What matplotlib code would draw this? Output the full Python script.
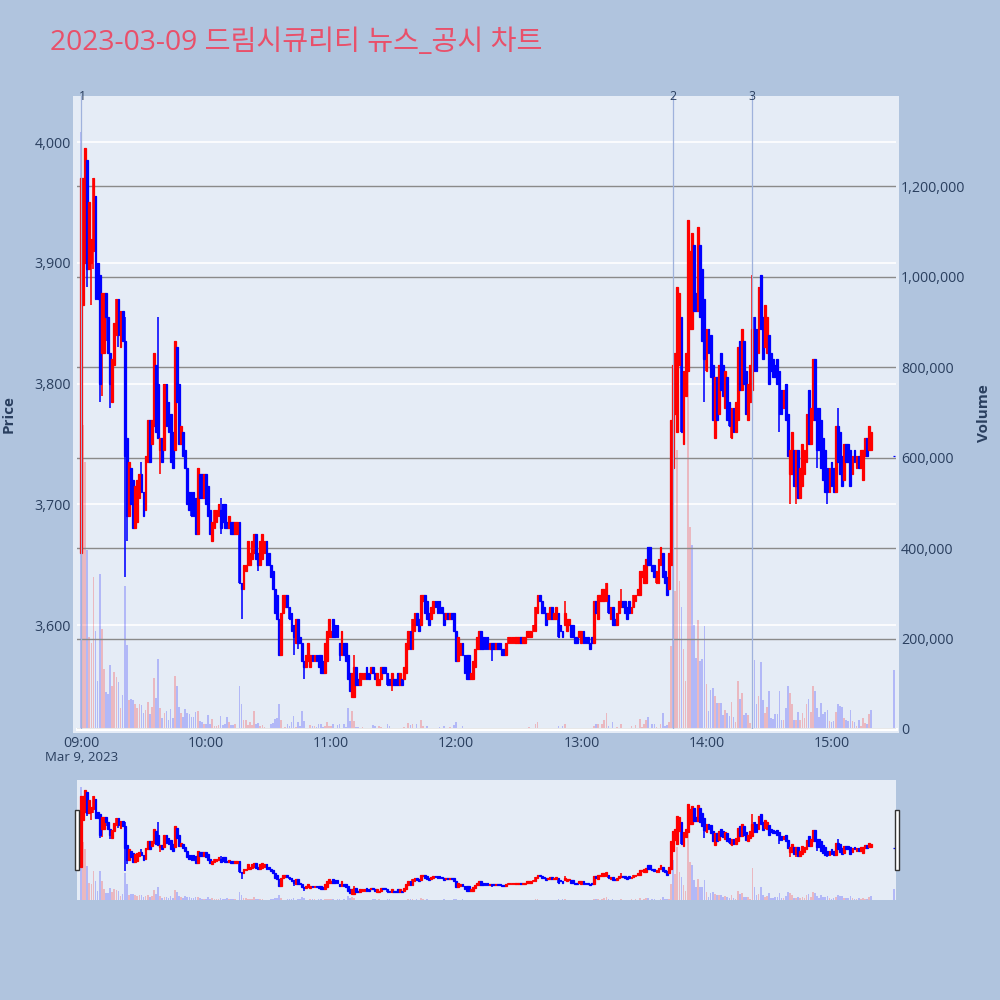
# -*- coding: utf-8 -*-
import matplotlib
matplotlib.use('Agg')
import matplotlib.pyplot as plt
from matplotlib.patches import Rectangle

plt.rcParams['font.family'] = ['Open Sans', 'DejaVu Sans']

title = '2023-03-09 드림시큐리티 뉴스_공시 차트'

# minutes after 09:00, one candle per minute, nothing traded 15:20-15:29
minutes = list(range(380)) + [390]

opens = [
    3660, 3865, 3900, 3985, 3895, 3900, 3910, 3955, 3900, 3890,
    3825, 3825, 3875, 3855, 3825, 3785, 3815, 3840, 3870, 3830,
    3860, 3835, 3755, 3690, 3730, 3720, 3680, 3685, 3705, 3725,
    3710, 3695, 3735, 3770, 3750, 3765, 3815, 3800, 3745, 3755,
    3745, 3800, 3785, 3775, 3760, 3745, 3830, 3800, 3750, 3760,
    3745, 3730, 3710, 3710, 3710, 3705, 3675, 3725, 3725, 3705,
    3725, 3715, 3695, 3670, 3680, 3685, 3690, 3695, 3700, 3700,
    3685, 3680, 3685, 3685, 3675, 3675, 3685, 3635, 3630, 3645,
    3650, 3650, 3655, 3660, 3675, 3660, 3650, 3655, 3660, 3670,
    3660, 3650, 3645, 3630, 3625, 3605, 3575, 3610, 3615, 3625,
    3615, 3610, 3600, 3585, 3605, 3590, 3585, 3570, 3565, 3570,
    3565, 3575, 3570, 3575, 3575, 3575, 3570, 3560, 3570, 3590,
    3590, 3605, 3600, 3600, 3585, 3575, 3585, 3585, 3575, 3560,
    3540, 3540, 3565, 3555, 3550, 3555, 3555, 3565, 3560, 3560,
    3565, 3560, 3550, 3550, 3555, 3565, 3565, 3560, 3555, 3550,
    3555, 3555, 3560, 3550, 3555, 3555, 3560, 3580, 3595, 3580,
    3595, 3610, 3605, 3600, 3620, 3625, 3620, 3610, 3605, 3610,
    3620, 3620, 3620, 3615, 3610, 3605, 3610, 3605, 3610, 3610,
    3595, 3570, 3575, 3585, 3575, 3575, 3575, 3555, 3555, 3565,
    3580, 3580, 3595, 3590, 3590, 3590, 3580, 3585, 3585, 3580,
    3585, 3585, 3580, 3580, 3575, 3585, 3585, 3585, 3585, 3585,
    3585, 3590, 3585, 3585, 3590, 3590, 3590, 3595, 3595, 3610,
    3625, 3620, 3615, 3610, 3605, 3605, 3615, 3605, 3605, 3610,
    3600, 3595, 3600, 3595, 3600, 3600, 3600, 3590, 3590, 3590,
    3585, 3595, 3590, 3590, 3585, 3590, 3585, 3620, 3605, 3620,
    3620, 3620, 3620, 3625, 3605, 3615, 3605, 3600, 3610, 3615,
    3620, 3620, 3615, 3620, 3610, 3615, 3620, 3625, 3625, 3640,
    3635, 3635, 3665, 3665, 3650, 3650, 3635, 3635, 3650, 3660,
    3645, 3640, 3630, 3650, 3730, 3775, 3760, 3815, 3855, 3750,
    3790, 3810, 3845, 3845, 3915, 3875, 3860, 3915, 3895, 3870,
    3810, 3845, 3840, 3815, 3755, 3805, 3775, 3825, 3815, 3780,
    3805, 3785, 3755, 3780, 3760, 3770, 3835, 3795, 3835, 3810,
    3770, 3785, 3795, 3855, 3845, 3825, 3890, 3855, 3830, 3825,
    3840, 3825, 3820, 3815, 3820, 3810, 3795, 3780, 3800, 3775,
    3725, 3725, 3745, 3715, 3745, 3705, 3715, 3725, 3735, 3795,
    3750, 3770, 3820, 3780, 3780, 3770, 3755, 3745, 3730, 3710,
    3735, 3730, 3710, 3765, 3760, 3740, 3720, 3750, 3750, 3745,
    3725, 3745, 3730, 3740, 3730, 3720, 3740, 3755, 3745, 3745,
    3740,
]

closes = [
    3970, 3970, 3995, 3895, 3950, 3920, 3970, 3870, 3870, 3800,
    3875, 3875, 3855, 3825, 3800, 3820, 3850, 3870, 3840, 3860,
    3835, 3740, 3690, 3735, 3700, 3680, 3715, 3720, 3725, 3710,
    3690, 3740, 3770, 3735, 3770, 3825, 3760, 3755, 3755, 3735,
    3800, 3765, 3760, 3735, 3730, 3835, 3785, 3750, 3765, 3740,
    3730, 3700, 3695, 3690, 3690, 3675, 3730, 3705, 3705, 3725,
    3700, 3690, 3675, 3685, 3695, 3695, 3700, 3680, 3685, 3680,
    3680, 3690, 3675, 3675, 3685, 3685, 3635, 3630, 3650, 3650,
    3670, 3660, 3670, 3675, 3655, 3650, 3670, 3675, 3670, 3650,
    3650, 3640, 3630, 3610, 3605, 3575, 3610, 3625, 3625, 3615,
    3605, 3595, 3590, 3605, 3585, 3585, 3570, 3565, 3575, 3585,
    3575, 3570, 3575, 3570, 3565, 3560, 3560, 3585, 3595, 3605,
    3595, 3590, 3590, 3590, 3575, 3595, 3575, 3570, 3555, 3545,
    3560, 3565, 3550, 3550, 3560, 3560, 3560, 3555, 3555, 3565,
    3560, 3555, 3560, 3555, 3565, 3560, 3560, 3550, 3550, 3560,
    3550, 3550, 3550, 3560, 3550, 3565, 3585, 3595, 3580, 3605,
    3610, 3600, 3595, 3625, 3625, 3610, 3605, 3600, 3615, 3620,
    3615, 3610, 3610, 3610, 3600, 3610, 3605, 3610, 3605, 3595,
    3570, 3590, 3585, 3575, 3560, 3555, 3555, 3560, 3570, 3580,
    3590, 3595, 3580, 3580, 3580, 3580, 3585, 3580, 3580, 3585,
    3580, 3580, 3575, 3575, 3585, 3590, 3590, 3590, 3590, 3590,
    3590, 3585, 3590, 3590, 3595, 3595, 3595, 3600, 3615, 3625,
    3620, 3610, 3610, 3600, 3610, 3615, 3605, 3610, 3615, 3590,
    3595, 3590, 3610, 3605, 3605, 3590, 3590, 3585, 3585, 3595,
    3595, 3585, 3585, 3585, 3580, 3585, 3620, 3610, 3625, 3625,
    3630, 3630, 3635, 3610, 3615, 3600, 3600, 3610, 3620, 3620,
    3615, 3610, 3605, 3610, 3615, 3625, 3625, 3630, 3645, 3645,
    3650, 3655, 3650, 3650, 3645, 3640, 3645, 3655, 3665, 3640,
    3635, 3625, 3660, 3770, 3815, 3825, 3880, 3875, 3760, 3810,
    3825, 3935, 3910, 3925, 3860, 3860, 3930, 3855, 3835, 3820,
    3845, 3825, 3805, 3770, 3805, 3770, 3815, 3795, 3790, 3810,
    3770, 3765, 3780, 3760, 3785, 3830, 3795, 3845, 3800, 3775,
    3800, 3815, 3845, 3810, 3810, 3880, 3845, 3820, 3865, 3855,
    3800, 3810, 3805, 3805, 3800, 3775, 3775, 3795, 3770, 3740,
    3745, 3760, 3715, 3745, 3705, 3730, 3750, 3745, 3775, 3750,
    3780, 3820, 3770, 3745, 3745, 3730, 3720, 3710, 3710, 3730,
    3715, 3710, 3765, 3735, 3725, 3715, 3750, 3735, 3735, 3715,
    3740, 3735, 3740, 3730, 3745, 3745, 3755, 3740, 3765, 3760,
    3740,
]

# wicks that stick out of the body, by candle number
wick_highs = {21: 3855, 29: 3735, 37: 3855, 67: 3705, 131: 3575, 232: 3620,
              259: 3630, 322: 3890, 363: 3780}
wick_lows = {3: 3880, 5: 3865, 6: 3895, 9: 3785, 10: 3790, 12: 3835, 14: 3780,
             18: 3830, 21: 3640, 22: 3670, 38: 3725, 67: 3675, 77: 3605,
             85: 3645, 102: 3575, 104: 3580, 107: 3555, 124: 3570, 149: 3545,
             197: 3570, 299: 3785, 335: 3760, 340: 3700, 343: 3700, 353: 3730,
             358: 3700}

# volume in thousands of shares
volumes = [
    1320, 672, 590, 395, 204, 189, 337, 217, 107, 343,
    221, 132, 81, 77, 141, 95, 125, 116, 103, 46,
    75, 315, 186, 64, 66, 65, 55, 46, 55, 54,
    36, 42, 59, 33, 48, 112, 68, 155, 46, 24,
    36, 40, 20, 44, 24, 118, 94, 49, 36, 27,
    44, 35, 33, 27, 26, 37, 40, 18, 16, 12,
    12, 31, 12, 21, 7, 7, 9, 29, 9, 12,
    26, 16, 9, 9, 11, 2, 94, 55, 20, 20,
    9, 16, 9, 40, 11, 14, 7, 9, 5, 3,
    3, 12, 14, 22, 24, 55, 20, 3, 5, 12,
    7, 15, 29, 5, 15, 7, 40, 18, 3, 2,
    9, 7, 7, 5, 11, 11, 4, 7, 16, 7,
    7, 11, 2, 9, 11, 3, 12, 5, 46, 18,
    40, 18, 5, 5, 2, 5, 2, 2, 2, 2,
    9, 7, 2, 7, 5, 2, 2, 12, 7, 2,
    2, 1, 2, 3, 2, 5, 2, 14, 9, 10,
    2, 10, 3, 20, 7, 2, 7, 2, 3, 1,
    2, 2, 5, 2, 7, 2, 2, 5, 2, 9,
    15, 2, 2, 7, 2, 2, 2, 1, 1, 2,
    1, 1, 1, 2, 1, 1, 3, 1, 2, 1,
    1, 1, 2, 3, 2, 1, 1, 1, 3, 1,
    1, 1, 2, 1, 1, 5, 2, 2, 11, 15,
    1, 2, 3, 1, 1, 1, 1, 1, 1, 7,
    2, 7, 10, 1, 1, 1, 3, 1, 1, 1,
    1, 3, 1, 1, 1, 1, 7, 12, 10, 3,
    12, 20, 35, 7, 1, 15, 2, 5, 1, 12,
    2, 1, 1, 2, 7, 2, 9, 2, 21, 5,
    11, 20, 26, 2, 11, 12, 5, 2, 12, 35,
    7, 9, 15, 184, 464, 306, 617, 326, 270, 177,
    107, 1000, 447, 407, 230, 157, 241, 151, 155, 228,
    99, 39, 87, 90, 74, 57, 58, 57, 32, 41,
    35, 29, 59, 27, 16, 107, 66, 79, 31, 36,
    31, 13, 373, 152, 55, 73, 147, 64, 35, 49,
    84, 24, 22, 33, 33, 84, 20, 20, 46, 96,
    79, 55, 20, 20, 38, 20, 36, 24, 55, 66,
    37, 94, 84, 47, 27, 57, 33, 38, 42, 18,
    16, 18, 38, 55, 51, 49, 24, 20, 18, 43,
    18, 15, 7, 20, 7, 25, 14, 11, 33, 43,
    130,
]
# volume bars that are blue although the candle is red
blue_volume_bars = [0, 284, 293, 379]

price_ticks = [3600, 3700, 3800, 3900, 4000]
volume_ticks = [0, 200000, 400000, 600000, 800000, 1000000, 1200000]
time_ticks = [0, 60, 120, 180, 240, 300, 360]
time_labels = ['09:00', '10:00', '11:00', '12:00', '13:00', '14:00', '15:00']
news_minutes = [0, 284, 322]
news_labels = ['1', '2', '3']

RED = '#ff0000'
BLUE = '#0000ff'
PAPER = '#b0c4de'
PLOT_BG = '#e5ecf6'
TEXT = '#2a3f5f'
XLIM = (-1.9, 390.9)
PRICE_LIM = (3513.9, 4038.1)
VOLUME_LIM = (0, 1399000)

highs = [wick_highs.get(i, max(o, c)) for i, (o, c) in enumerate(zip(opens, closes))]
lows = [wick_lows.get(i, min(o, c)) for i, (o, c) in enumerate(zip(opens, closes))]
candle_colors = [RED if c > o else BLUE for o, c in zip(opens, closes)]
bar_colors = [BLUE if i in blue_volume_bars else col for i, col in enumerate(candle_colors)]
volume_values = [v * 1000 for v in volumes]


def draw_volume(ax):
    ax.bar(minutes, volume_values, width=0.8, color=bar_colors, alpha=0.22, linewidth=0, zorder=1)
    ax.set_xlim(*XLIM)
    ax.set_ylim(*VOLUME_LIM)


def draw_candles(ax):
    bottoms = [min(o, c) for o, c in zip(opens, closes)]
    heights = [abs(c - o) for o, c in zip(opens, closes)]
    ax.vlines(minutes, lows, highs, colors=candle_colors, linewidth=1.15, zorder=4)
    ax.bar(minutes, heights, bottom=bottoms, width=0.85, color=candle_colors,
           edgecolor=candle_colors, linewidth=0.9, zorder=5)
    ax.set_xlim(*XLIM)
    ax.set_ylim(*PRICE_LIM)


fig = plt.figure(figsize=(10, 10), dpi=100, facecolor=PAPER)
fig.patches.append(Rectangle((0.073, 0.267), 0.826, 0.637, transform=fig.transFigure,
                             facecolor=PLOT_BG, edgecolor='none', zorder=-5))

# white price grid under everything else
ax_white = fig.add_axes([0.077, 0.271, 0.819, 0.633], zorder=0)
ax_white.patch.set_visible(False)
ax_white.set_xlim(*XLIM)
ax_white.set_ylim(*PRICE_LIM)
ax_white.hlines(price_ticks, XLIM[0], XLIM[1], colors='white', linewidth=1.2)
ax_white.axis('off')

# volume on the right axis, candles above it
ax_vol = fig.add_axes([0.077, 0.271, 0.819, 0.633], zorder=1)
ax_vol.patch.set_visible(False)
draw_volume(ax_vol)
ax_vol.yaxis.tick_right()
ax_vol.set_yticks(volume_ticks)
ax_vol.set_yticklabels([f'{v:,}' for v in volume_ticks])
ax_vol.set_xticks(time_ticks)
ax_vol.set_xticklabels(time_labels)
ax_vol.tick_params(axis='both', length=0, labelsize=10.3, labelcolor=TEXT, pad=5)
ax_vol.tick_params(axis='y', pad=3.5)
ax_vol.grid(axis='y', color='#8a8a8a', linewidth=1.0, zorder=2)
ax_vol.set_axisbelow(False)
for side in ax_vol.spines:
    ax_vol.spines[side].set_visible(False)
ax_vol.axhline(0, color='white', linewidth=2.2, zorder=2, clip_on=False)

ax = fig.add_axes([0.077, 0.271, 0.819, 0.633], sharex=ax_vol, zorder=2)
ax.patch.set_visible(False)
draw_candles(ax)
ax.set_yticks(price_ticks)
ax.set_yticklabels([f'{p:,}' for p in price_ticks])
ax.tick_params(axis='y', length=0, labelsize=10.3, labelcolor=TEXT, pad=4.3)
ax.tick_params(axis='x', length=0, labelbottom=False)
for side in ax.spines:
    ax.spines[side].set_visible(False)

for m, label in zip(news_minutes, news_labels):
    ax.axvline(m, color='#9fb2dc', linewidth=0.9, zorder=6)
    ax.annotate(label, xy=(m, 1.0), xycoords=('data', 'axes fraction'), xytext=(1 if m == 0 else 0, -1),
                textcoords='offset pixels', ha='center', va='center', fontsize=8.8,
                color=TEXT, annotation_clip=False, zorder=7)

fig.text(0.050, 0.9570, title, fontsize=20.3, color='#e9506a', ha='left', va='center',
         family=['Open Sans', 'Noto Sans CJK KR', 'DejaVu Sans'])
fig.text(0.009, 0.586, 'Price', rotation=90, fontsize=11, fontweight='bold', color=TEXT,
         ha='center', va='center')
fig.text(0.984, 0.587, 'Volume', rotation=90, fontsize=11, fontweight='bold', color=TEXT,
         ha='center', va='center')
fig.text(0.0815, 0.2425, 'Mar 9, 2023', fontsize=9.5, color=TEXT, ha='center', va='center')

# range slider
slider_vol = fig.add_axes([0.077, 0.100, 0.819, 0.120], facecolor=PLOT_BG)
draw_volume(slider_vol)
slider_vol.set_xticks([])
slider_vol.set_yticks([])
for side in slider_vol.spines:
    slider_vol.spines[side].set_visible(False)
slider_price = fig.add_axes([0.077, 0.100, 0.819, 0.120])
slider_price.patch.set_visible(False)
draw_candles(slider_price)
slider_price.axis('off')

for left in (0.0745, 0.8945):
    fig.patches.append(Rectangle((left, 0.130), 0.004, 0.060, transform=fig.transFigure,
                                 facecolor='white', edgecolor='#333333', linewidth=1.0, zorder=10))

fig.savefig('out.png', dpi=100, facecolor=PAPER)
